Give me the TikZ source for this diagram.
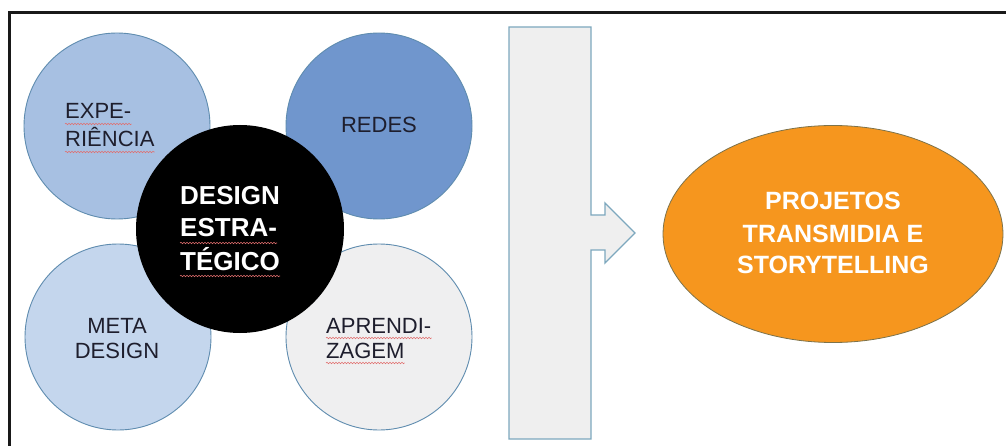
\documentclass[tikz,border=0pt]{standalone}
\usepackage{fontspec}
\setmainfont{Liberation Sans}
\usetikzlibrary{shapes.geometric,decorations.pathmorphing}

\definecolor{expfill}{RGB}{167,192,226}
\definecolor{redesfill}{RGB}{112,150,205}
\definecolor{metafill}{RGB}{196,214,237}
\definecolor{aprfill}{RGB}{239,239,240}
\definecolor{ringline}{RGB}{95,140,175}
\definecolor{arrowfill}{RGB}{239,239,239}
\definecolor{arrowline}{RGB}{125,168,190}
\definecolor{orangefill}{RGB}{246,150,30}
\definecolor{orangeline}{RGB}{125,115,75}
\definecolor{inktext}{RGB}{30,30,45}
\definecolor{squiggle}{RGB}{225,110,110}

\tikzset{
  ring/.style={circle, draw=ringline, line width=0.9pt, inner sep=0pt, minimum size=186pt},
  hub/.style={circle, fill=black, inner sep=0pt, minimum size=208pt},
  lbl/.style={inner sep=0pt, text=inktext, font=\fontsize{22}{27}\selectfont},
  hublbl/.style={inner sep=0pt, text=white, font=\fontsize{26}{32}\selectfont\bfseries},
  goallbl/.style={inner sep=0pt, text=white, font=\fontsize{25}{31}\selectfont\bfseries},
  goal/.style={ellipse, fill=orangefill, draw=orangeline, line width=0.8pt,
               inner sep=0pt, minimum width=340pt, minimum height=217pt},
  spell/.style={draw=squiggle, line width=0.6pt,
                decorate, decoration={snake, segment length=3pt, amplitude=0.7pt}},
}

\begin{document}
\begin{tikzpicture}[x=1pt, y=-1pt]
  \useasboundingbox (0,0) rectangle (1006,446);
  \clip (0,0) rectangle (1006,446);
  \fill[white] (0,0) rectangle (1006,446);

  % page frame (top and left edges)
  \draw[line width=3pt, black!90] (9.5,470) -- (9.5,12.5) -- (1030,12.5);

  % outer rings
  \node[ring, fill=expfill]   (exp)   at (117,126) {};
  \node[ring, fill=redesfill] (redes) at (379,126) {};
  \node[ring, fill=metafill]  (meta)  at (118,337) {};
  \node[ring, fill=aprfill]   (apr)   at (379,337) {};

  % central hub
  \node[hub] (hub) at (240,229) {};

  % ring labels
  \node[lbl, anchor=base west] (e1) at (65,119) {EXPE-};
  \node[lbl, anchor=base west] (e2) at (65,147) {RIÊNCIA};
  \node[lbl, anchor=base] (r1) at (379,133) {REDES};
  \node[lbl, anchor=base] (m1) at (117,333) {META};
  \node[lbl, anchor=base] (m2) at (117,358) {DESIGN};
  \node[lbl, anchor=base west] (a1) at (326,333) {APRENDI-};
  \node[lbl, anchor=base west] (a2) at (326,358) {ZAGEM};

  % hub label
  \node[hublbl, anchor=base west] (h1) at (180,205) {DESIGN};
  \node[hublbl, anchor=base west] (h2) at (180,237) {ESTRA-};
  \node[hublbl, anchor=base west] (h3) at (180,270) {TÉGICO};

  % spell-check marks under hyphenated words
  \draw[spell] ([yshift=-5pt]e1.base west) -- ([yshift=-5pt]e1.base east);
  \draw[spell] ([yshift=-5pt]e2.base west) -- ([yshift=-5pt]e2.base east);
  \draw[spell] ([yshift=-5pt]a1.base west) -- ([yshift=-5pt]a1.base east);
  \draw[spell] ([yshift=-5pt]a2.base west) -- ([yshift=-5pt]a2.base east);
  \draw[spell] ([yshift=-6pt]h2.base west) -- ([yshift=-6pt]h2.base east);
  \draw[spell] ([yshift=-6pt]h3.base west) -- ([yshift=-6pt]h3.base east);

  % bar with arrow pointing right
  \draw[fill=arrowfill, draw=arrowline, line width=1.3pt, line join=miter]
    (509,27) -- (591,27) -- (591,215) -- (605,215) -- (605,203) -- (635,233)
    -- (605,263) -- (605,250) -- (591,250) -- (591,439) -- (509,439) -- cycle;

  % outcome
  \node[goal] (goal) at (833,234) {};
  \node[goallbl, anchor=base] (g1) at (833,210) {PROJETOS};
  \node[goallbl, anchor=base] (g2) at (833,243) {TRANSMIDIA E};
  \node[goallbl, anchor=base] (g3) at (833,273) {STORYTELLING};
\end{tikzpicture}
\end{document}
